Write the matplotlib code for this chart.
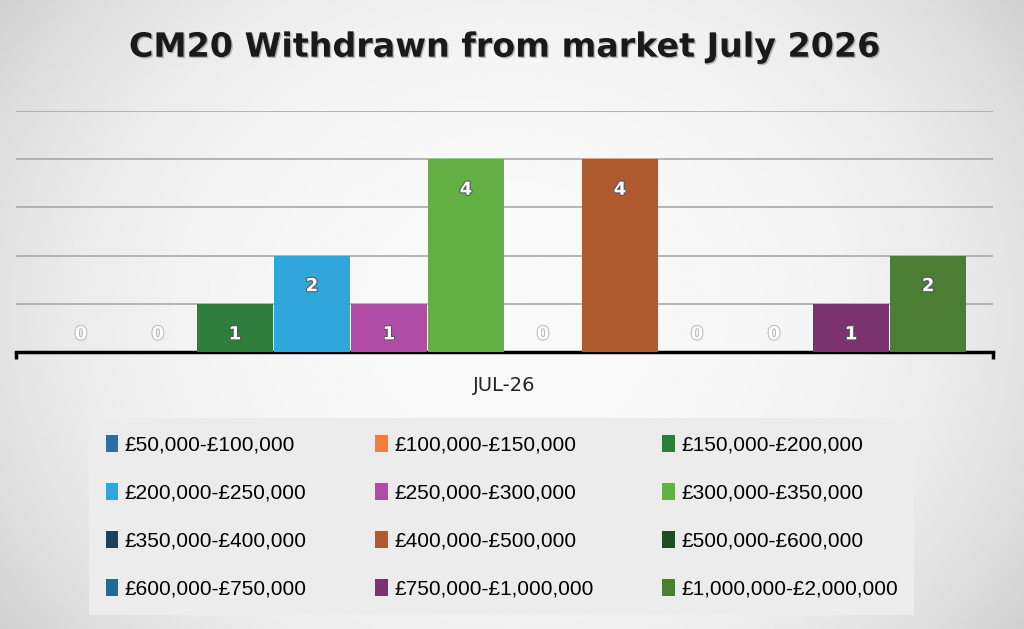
import numpy as np
import matplotlib.pyplot as plt
import matplotlib.patheffects as pe

# data
category = "JUL-26"
bands = ["£50,000-£100,000", "£100,000-£150,000", "£150,000-£200,000",
         "£200,000-£250,000", "£250,000-£300,000", "£300,000-£350,000",
         "£350,000-£400,000", "£400,000-£500,000", "£500,000-£600,000",
         "£600,000-£750,000", "£750,000-£1,000,000", "£1,000,000-£2,000,000"]
counts = [0, 0, 1, 2, 1, 4, 0, 4, 0, 0, 1, 2]
colors = ["#2c6e9e", "#f07f3c", "#2f7d3b", "#2fa6dc", "#b04ca6", "#63b044",
          "#1e3f5a", "#b05a2f", "#1f4d26", "#236b96", "#7a336f", "#4b7d35"]

fig = plt.figure(figsize=(10.24, 6.29), dpi=100)

# radial grey background
bg = fig.add_axes([0, 0, 1, 1], zorder=-10)
yy, xx = np.mgrid[-1:1:300j, -1:1:500j]
r = np.sqrt((xx * 0.85) ** 2 + (yy * 0.6) ** 2)
bg.imshow(0.975 - 0.14 * r ** 3, cmap="gray", vmin=0, vmax=1, aspect="auto",
          extent=[0, 1, 0, 1])
bg.axis("off")

ax = fig.add_axes([0.0156, 0.4404, 0.9541, 0.3831])
ax.set_facecolor("none")

n = len(counts)
group = 0.946
w = group / n
x = -group / 2 + w / 2 + np.arange(n) * w
bars = ax.bar(x, counts, width=w * 0.98, color=colors, zorder=3)

for xi, v in zip(x, counts):
    ax.annotate(str(v), (xi, max(v, 1)), xytext=(0, -22), textcoords="offset points",
                ha="center", va="center", fontsize=13, fontweight="bold",
                color="white", zorder=4,
                path_effects=[pe.withStroke(linewidth=1.5,
                                            foreground="#555555" if v else "#bbbbbb")])

ax.set_xlim(-0.5, 0.5)
ax.set_ylim(0, 5)
ax.set_yticks([1, 2, 3, 4, 5])
ax.grid(axis="y", color="#a8a8a8", linewidth=1.2, zorder=0)
ax.tick_params(axis="y", length=0, labelleft=False)
ax.set_xticks([-0.5, 0.5])
ax.set_xticklabels(["", ""])
ax.tick_params(axis="x", length=5, width=2.5, color="black", direction="out")
for s in ["top", "right", "left"]:
    ax.spines[s].set_visible(False)
ax.spines["bottom"].set_linewidth(2.5)
ax.text(0, -0.7, category, ha="center", va="center", fontsize=14,
        family="DejaVu Sans", color="#222222")

fig.text(0.493, 0.925, "CM20 Withdrawn from market July 2026", ha="center",
         va="center", fontsize=24, fontweight="bold", color="#1a1a1a",
         path_effects=[pe.withSimplePatchShadow(offset=(1, -1), alpha=0.25)])

# legend filled row by row, like the original
order = [0, 3, 6, 9, 1, 4, 7, 10, 2, 5, 8, 11]
leg = fig.legend(handles=[bars.patches[i] for i in order],
                 labels=[bands[i] for i in order], ncol=3,
                 loc="upper center", bbox_to_anchor=(0.49, 0.352),
                 frameon=True, facecolor="#ececec", edgecolor="none",
                 fancybox=False, framealpha=1,
                 prop={"family": "Liberation Sans", "size": 15},
                 handlelength=0.6, handleheight=0.9, handletextpad=0.3,
                 columnspacing=3.3, labelspacing=1.35, borderpad=0.8)

fig.savefig("out.png", dpi=100)
